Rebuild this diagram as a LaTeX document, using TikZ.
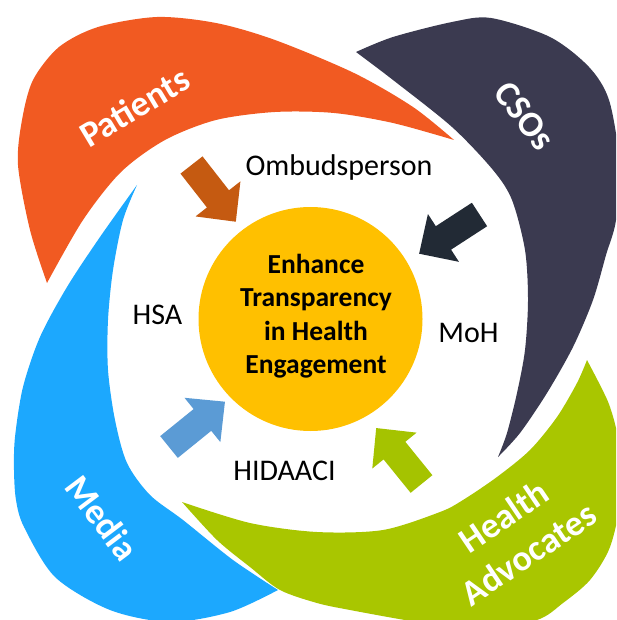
\documentclass[tikz,border=0pt]{standalone}
\usepackage{fontspec}
\setmainfont{Carlito}
\usepackage{tikz}
\definecolor{patorange}{HTML}{F15A22}
\definecolor{csonavy}{HTML}{3B3A50}
\definecolor{medblue}{HTML}{1CA8FE}
\definecolor{advgreen}{HTML}{A9C600}
\definecolor{coreyellow}{HTML}{FFC000}
\definecolor{arrorange}{HTML}{C55A11}
\definecolor{arrnavy}{HTML}{222A35}
\definecolor{arrblue}{HTML}{5B9BD5}
\definecolor{arrgreen}{HTML}{A5C300}
\tikzset{
    petaltext/.style={text=white, font=\bfseries\fontsize{36}{45}\selectfont, align=center},
    actor/.style={font=\fontsize{30}{36}\selectfont}
}
\newcommand{\blockarrow}[4]{\fill[#1, shift={(#2,#3)}, rotate=#4] (0,-14) -- (43,-14) -- (43,-28.5) -- (72,0) -- (43,28.5) -- (43,14) -- (0,14) -- cycle;}

\begin{document}
\begin{tikzpicture}[x=1pt, y=-1pt]
    \useasboundingbox (0,0) rectangle (616,620);
    \clip (0,0) rectangle (616,620);
    \fill[patorange] plot[smooth] coordinates {(47,283) (30,230) (18,165) (22,120) (33,80) (59,47) (98,27) (157,17) (216,23) (275,40) (354,73) (413,107) (454,140)}
        -- plot[smooth] coordinates {(454,140) (393,123) (334,113) (275,112) (216,120) (165,140) (121,172) (83,220) (47,283)} -- cycle;
    \fill[csonavy] plot[smooth] coordinates {(356,52) (393,37) (452,22) (491,18) (550,37) (589,67) (609,100) (619,160) (616,220) (606,255) (593,300) (573,347) (547,393) (520,433) (498,457)}
        -- plot[smooth] coordinates {(498,457) (507,433) (517,393) (525,350) (528,300) (525,250) (512,200) (493,170) (452,127) (393,80) (356,52)} -- cycle;
    \fill[medblue] plot[smooth] coordinates {(137,185) (100,237) (67,287) (40,337) (23,387) (15,437) (14,470) (16,500) (24,527) (55,577) (110,610) (170,622) (230,612) (278,590)}
        -- plot[smooth] coordinates {(278,590) (233,560) (183,520) (150,495) (127,463) (115,420) (108,370) (108,320) (113,270) (123,220) (137,185)} -- cycle;
    \fill[advgreen] plot[smooth] coordinates {(182,502) (250,523) (317,532) (383,530) (440,512) (463,500) (497,477) (530,450) (557,417) (577,383) (587,360)}
        -- plot[smooth] coordinates {(587,360) (600,385) (610,407) (618,440) (620,500) (610,547) (590,580) (563,603) (537,620) (480,630) (417,622) (350,610) (317,603) (280,590) (250,567) (217,540) (182,502)} -- cycle;
    \node(core)[circle, fill=coreyellow, minimum size=224pt, inner sep=0pt] at (310.5,319) {};
    \node(goal)[align=center, font=\bfseries\fontsize{27.5}{33.5}\selectfont] at (316,316) {Enhance\\Transparency\\in Health\\Engagement};
    \blockarrow{arrorange}{191.5}{165}{-52}
    \blockarrow{arrnavy}{479.5}{214.5}{-147}
    \blockarrow{arrblue}{169}{447}{39}
    \blockarrow{arrgreen}{421.5}{484}{129}
    \node(ombuds)[actor] at (339,168) {Ombudsperson};
    \node(hsa)[actor] at (157.5,315) {HSA};
    \node(moh)[actor] at (468.5,333) {MoH};
    \node(hidaaci)[actor] at (284.5,471) {HIDAACI};
    \node(patients)[petaltext, rotate=31] at (134.5,107) {Patients};
    \node(csos)[petaltext, rotate=-52] at (524.5,116) {CSOs};
    \node(media)[petaltext, rotate=-53] at (102,518) {Media};
    \node(advocates)[petaltext, rotate=34] at (516,535) {Health\\Advocates};
\end{tikzpicture}
\end{document}
